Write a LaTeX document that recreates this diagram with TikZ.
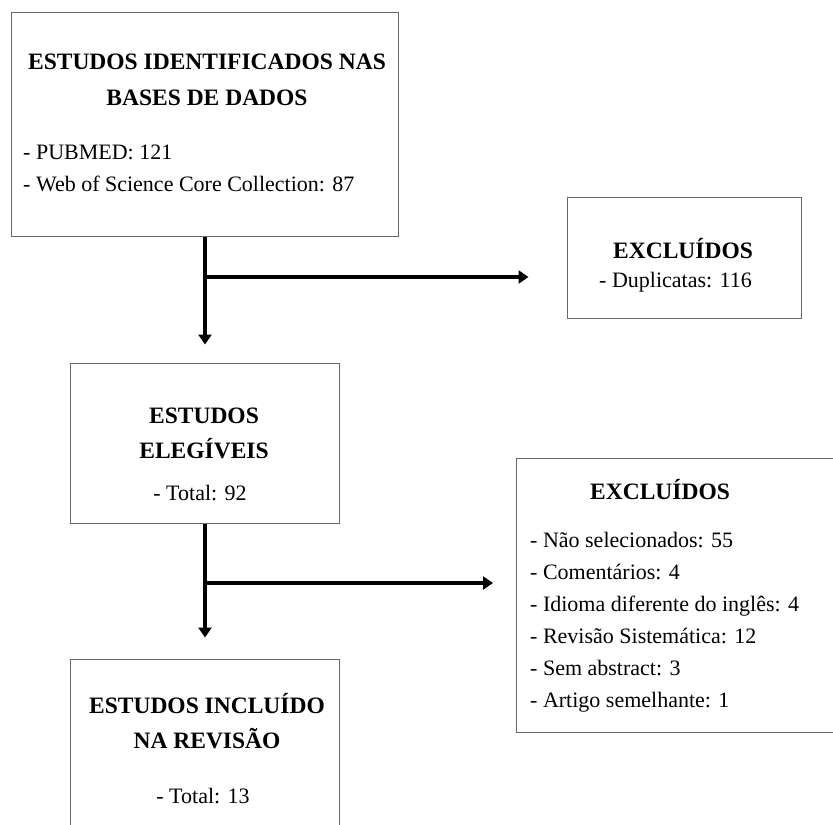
\documentclass[tikz,border=0pt]{standalone}
\usepackage{fontspec}
\setmainfont{Liberation Serif}
\usepackage{xcolor}
\usetikzlibrary{positioning, arrows.meta}
\definecolor{BoxGray}{RGB}{105,105,105}

\begin{document}
\begin{tikzpicture}[x=1bp, y=-1bp,
      fbox/.style={rectangle, draw=BoxGray, line width=1bp, fill=none, inner sep=0pt},
      ttl/.style={inner sep=0pt, anchor=base, font=\fontsize{23.5bp}{28bp}\selectfont\bfseries},
      txt/.style={inner sep=0pt, anchor=base west, font=\fontsize{22bp}{26bp}\selectfont},
      ctxt/.style={txt, anchor=base},
      arr/.style={-{Triangle[length=10bp, width=13bp]}, draw=black, line width=3.5bp}
    ]
    \useasboundingbox (0,0) rectangle (833,825);
    \clip (0,0) rectangle (833,825);

    % caixas
    \node[fbox, minimum width=386bp, minimum height=223bp] (ident) at (205, 124.5) {};
    \node[fbox, minimum width=234bp, minimum height=121bp] (excl1) at (684, 257.5) {};
    \node[fbox, minimum width=268bp, minimum height=160bp] (eleg)  at (205, 443) {};
    \node[fbox, minimum width=344bp, minimum height=274bp, anchor=west] (excl2) at (516, 595) {};
    \node[fbox, minimum width=268bp, minimum height=241bp] (incl)  at (205, 779.5) {};

    % textos
    \node[ttl] (identT1) at (207, 69)  {ESTUDOS IDENTIFICADOS NAS};
    \node[ttl] (identT2) at (207, 105) {BASES DE DADOS};
    \node[txt] (identL1) at (23, 159)  {- PUBMED: 121};
    \node[txt] (identL2) at (23, 191)  {- Web of Science Core Collection: 87};

    \node[ttl] (excl1T) at (683, 258) {EXCLUÍDOS};
    \node[txt] (excl1L) at (599, 287) {- Duplicatas: 116};

    \node[ttl]  (elegT1) at (204, 423) {ESTUDOS};
    \node[ttl]  (elegT2) at (204, 458) {ELEGÍVEIS};
    \node[ctxt] (elegL)  at (200, 500) {- Total: 92};

    \node[ttl] (excl2T) at (660, 499) {EXCLUÍDOS};
    \foreach \i/\t in {0/Não selecionados: 55, 1/Comentários: 4,
                       2/Idioma diferente do inglês: 4, 3/Revisão Sistemática: 12,
                       4/Sem abstract: 3, 5/Artigo semelhante: 1}{
      \node[txt] (excl2L\i) at (530, 547+32.1*\i) {- \t};
    }

    \node[ttl]  (inclT1) at (207, 713) {ESTUDOS INCLUÍDO};
    \node[ttl]  (inclT2) at (207, 748) {NA REVISÃO};
    \node[ctxt] (inclL)  at (203, 803) {- Total: 13};

    % setas
    \coordinate (b1) at (205, 277);
    \coordinate (b2) at (205, 583);
    \draw[arr, shorten >=18bp] (ident) -- (eleg);
    \draw[arr, shorten >=38bp] (b1) -- (b1 -| excl1.west);
    \draw[arr, shorten >=21bp] (eleg) -- (incl);
    \draw[arr, shorten >=23bp] (b2) -- (b2 -| excl2.west);
  \end{tikzpicture}
\end{document}
